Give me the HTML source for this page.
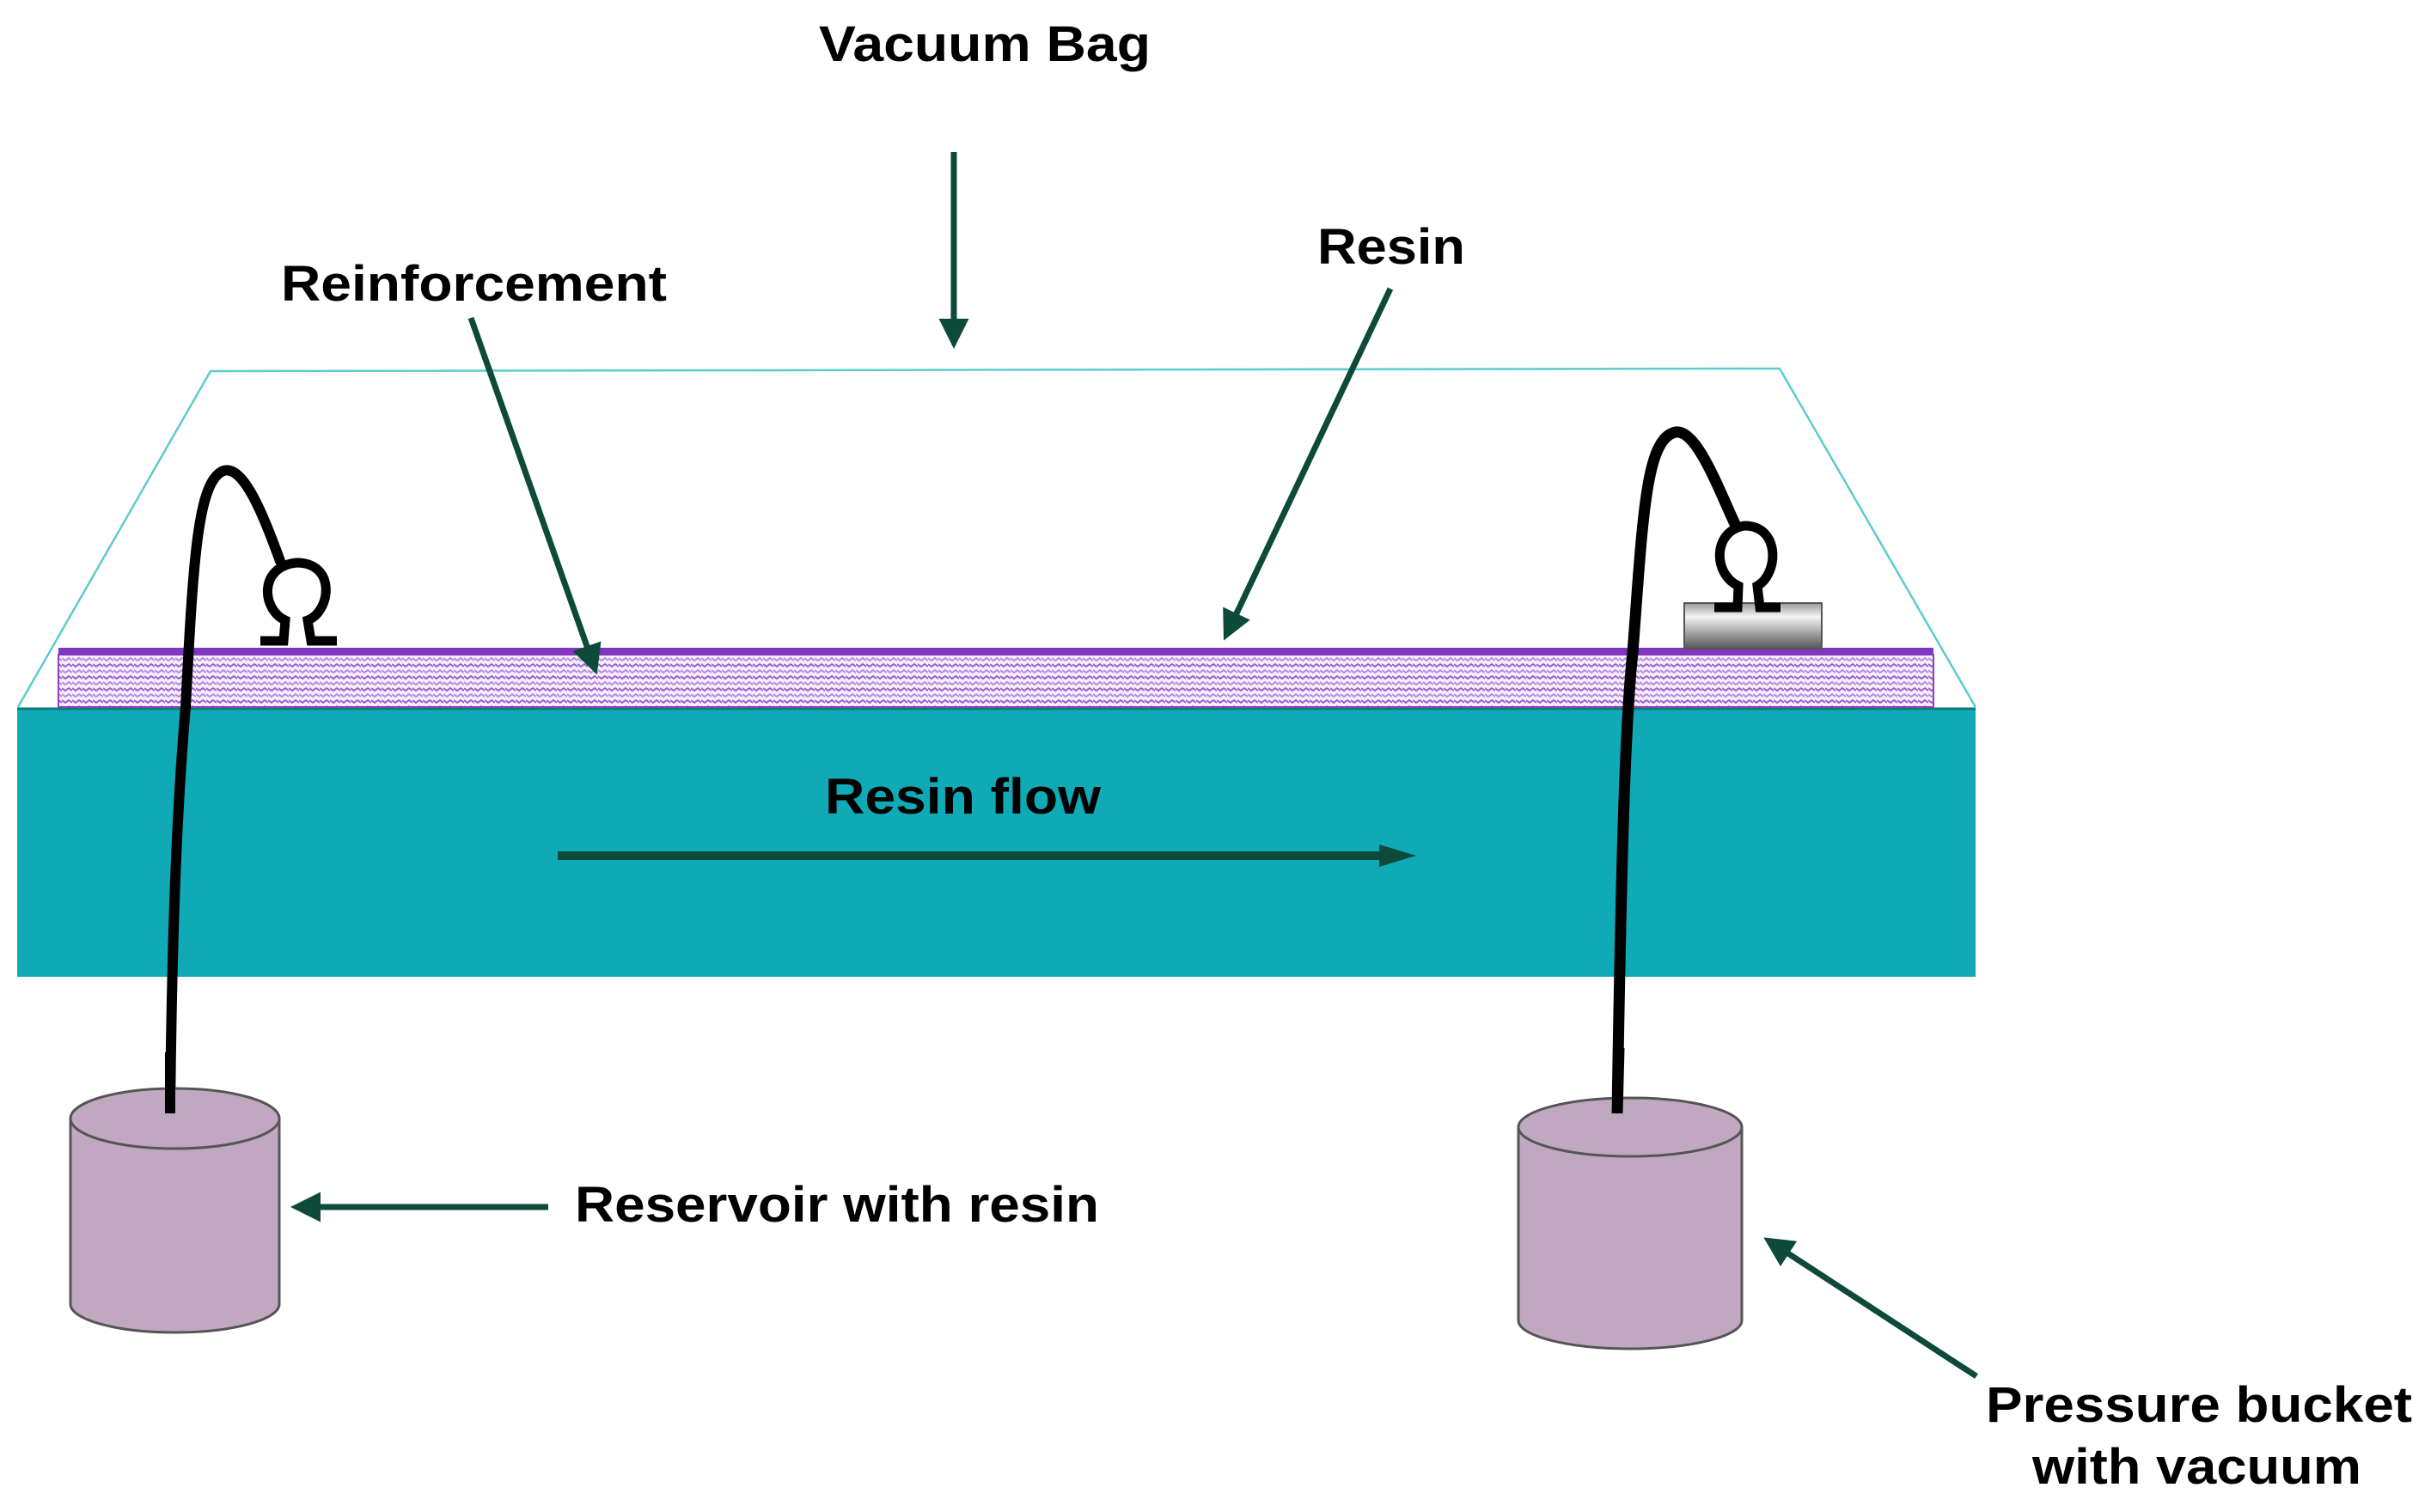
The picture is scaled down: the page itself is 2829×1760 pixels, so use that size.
<!DOCTYPE html>
<html><head><meta charset="utf-8"><style>
html,body{margin:0;padding:0;background:#fff;}
svg{display:block;}
text{font-family:"Liberation Sans",Arial,sans-serif;font-weight:bold;fill:#000;}
</style></head><body>
<svg width="2829" height="1760" viewBox="0 0 2829 1760" xmlns="http://www.w3.org/2000/svg">
<defs>
<pattern id="hatch" width="12" height="14" patternUnits="userSpaceOnUse">
<rect width="12" height="14" fill="#f6effc"/>
<path d="M0 3 L4 6 L8 3 L12 6" stroke="#9a5fd0" stroke-width="2" fill="none"/>
<path d="M0 10 L4 13 L8 10 L12 13" stroke="#b88ae0" stroke-width="2" fill="none"/>
</pattern>
<linearGradient id="blk" x1="0" y1="0" x2="0" y2="1">
<stop offset="0" stop-color="#9a9a9a"/><stop offset="0.3" stop-color="#f4f4f4"/><stop offset="1" stop-color="#555"/>
</linearGradient>
<marker id="ah" markerWidth="5" markerHeight="5" refX="3" refY="2.5" orient="auto" markerUnits="strokeWidth">
<path d="M0 0 L5 2.5 L0 5 Z" fill="#0d4a3a"/>
</marker>
</defs>

<!-- vacuum bag -->
<polyline points="21,823 245,432 2071,429 2299,823" fill="none" stroke="#5ccccc" stroke-width="2.5"/>

<!-- teal base -->
<rect x="20" y="824" width="2279" height="313" fill="#0faab6"/>
<line x1="20" y1="825" x2="2299" y2="825" stroke="#0a7a7a" stroke-width="3"/>

<!-- reinforcement -->
<rect x="68" y="762" width="2182" height="61" fill="url(#hatch)" stroke="#8a40c0" stroke-width="2"/>
<rect x="68" y="754" width="2182" height="9" fill="#8136c0"/>

<!-- grey block -->
<rect x="1960" y="702" width="160" height="53" fill="url(#blk)" stroke="#555" stroke-width="2"/>

<!-- left tube and omega -->
<path d="M198,1296 C200,1100 205,950 216,823 C225,650 230,560 260,548 C285,540 310,610 326,653" fill="none" stroke="#000" stroke-width="12" stroke-linecap="round"/>
<path d="M303,746 L330,746 L332,722 C305,710 300,660 345,655 C392,655 385,712 358,722 L362,746 L392,746" fill="none" stroke="#000" stroke-width="11"/>

<!-- right tube and omega -->
<path d="M1882,1292 C1886,1050 1890,850 1900,760 C1912,600 1915,510 1950,503 C1975,500 2000,570 2020,612" fill="none" stroke="#000" stroke-width="13" stroke-linecap="round"/>
<path d="M1995,707 L2022,707 L2023,682 C1993,668 1993,618 2030,612 C2072,612 2070,668 2045,682 L2048,707 L2072,707" fill="none" stroke="#000" stroke-width="11"/>

<!-- buckets -->
<g stroke="#555" stroke-width="3" fill="#c0a8c0">
<path d="M82,1302 L82,1518 A121.5,33 0 0 0 325,1518 L325,1302 Z"/>
<ellipse cx="203.5" cy="1302" rx="121.5" ry="35"/>
<path d="M1767,1312 L1767,1537 A130,33 0 0 0 2027,1537 L2027,1312 Z"/>
<ellipse cx="1897" cy="1312" rx="130" ry="34"/>
</g>
<line x1="198" y1="1225" x2="198" y2="1296" stroke="#000" stroke-width="12"/>
<line x1="1884" y1="1220" x2="1882" y2="1296" stroke="#000" stroke-width="13"/>

<!-- arrows -->
<g stroke="#0d4a3a" stroke-width="7" fill="none" marker-end="url(#ah)">
<line x1="1110" y1="177" x2="1110" y2="392"/>
<line x1="548" y1="370" x2="690" y2="772"/>
<line x1="1618" y1="336" x2="1430" y2="733"/>
<line x1="638" y1="1405" x2="352" y2="1405"/>
<line x1="2300" y1="1602" x2="2064" y2="1448"/>
</g>
<line x1="649" y1="996" x2="1620" y2="996" stroke="#0d4a3a" stroke-width="10"/>
<path d="M1605,983 L1648,996 L1605,1009 Z" fill="#0d4a3a"/>

<!-- labels -->
<text x="953" y="71" font-size="58" textLength="386" lengthAdjust="spacingAndGlyphs">Vacuum Bag</text>
<text x="327" y="350" font-size="58" textLength="449" lengthAdjust="spacingAndGlyphs">Reinforcement</text>
<text x="1533" y="307" font-size="58" textLength="172" lengthAdjust="spacingAndGlyphs">Resin</text>
<text x="960" y="947" font-size="58" textLength="321" lengthAdjust="spacingAndGlyphs">Resin flow</text>
<text x="669" y="1422" font-size="58" textLength="610" lengthAdjust="spacingAndGlyphs">Reservoir with resin</text>
<text x="2311" y="1655" font-size="58" textLength="496" lengthAdjust="spacingAndGlyphs">Pressure bucket</text>
<text x="2365" y="1727" font-size="58" textLength="383" lengthAdjust="spacingAndGlyphs">with vacuum</text>
</svg>
</body></html>
